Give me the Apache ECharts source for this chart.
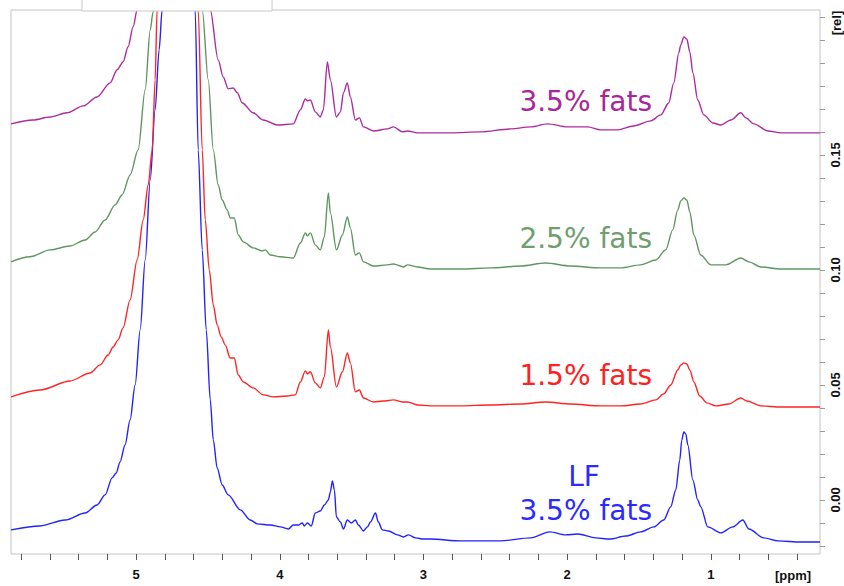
<!DOCTYPE html>
<html>
<head>
<meta charset="utf-8">
<script src="https://cdn.jsdelivr.net/npm/echarts@6/dist/echarts.min.js"></script>
<style>
  html, body { margin: 0; padding: 0; background: #fff; }
  #chart { width: 844px; height: 586px; }
</style>
</head>
<body>
<div id="chart"></div>
<script>
// spectra as [ppm, rel] pairs
const fat35 = [
  [5.871, 0.1635], [5.718, 0.1652], [5.599, 0.1665], [5.481, 0.1683], [5.369, 0.1713], [5.272, 0.1752],
  [5.181, 0.1813], [5.132, 0.1870], [5.091, 0.1904], [5.056, 0.1970], [5.021, 0.2057], [4.993, 0.2130],
  [4.707, 0.3043],
  [4.484, 0.2130], [4.429, 0.1913], [4.394, 0.1839], [4.359, 0.1787], [4.324, 0.1791], [4.296, 0.1770],
  [4.261, 0.1726], [4.185, 0.1683], [4.115, 0.1652], [4.017, 0.1630], [3.906, 0.1635], [3.857, 0.1696],
  [3.822, 0.1743], [3.808, 0.1735], [3.787, 0.1739], [3.753, 0.1687], [3.718, 0.1665], [3.697, 0.1696],
  [3.669, 0.1904], [3.648, 0.1826], [3.606, 0.1665], [3.578, 0.1687], [3.557, 0.1770], [3.530, 0.1813],
  [3.509, 0.1752], [3.474, 0.1652], [3.446, 0.1661], [3.418, 0.1622], [3.348, 0.1604], [3.251, 0.1613],
  [3.209, 0.1622], [3.146, 0.1600], [3.111, 0.1604], [3.042, 0.1596], [2.951, 0.1596], [2.812, 0.1596],
  [2.603, 0.1600], [2.394, 0.1613], [2.254, 0.1622], [2.136, 0.1635], [1.997, 0.1622], [1.857, 0.1622],
  [1.767, 0.1609], [1.648, 0.1609], [1.537, 0.1626], [1.418, 0.1648], [1.348, 0.1674], [1.293, 0.1726],
  [1.258, 0.1813], [1.223, 0.1943], [1.209, 0.1978], [1.188, 0.2013], [1.167, 0.2004], [1.146, 0.1948],
  [1.125, 0.1857], [1.091, 0.1739], [1.049, 0.1674], [0.986, 0.1639], [0.930, 0.1630], [0.861, 0.1652],
  [0.791, 0.1683], [0.756, 0.1661], [0.700, 0.1635], [0.603, 0.1604], [0.512, 0.1596], [0.373, 0.1596],
  [0.240, 0.1596]
];

const fat25 = [
  [5.871, 0.1035], [5.739, 0.1057], [5.599, 0.1087], [5.460, 0.1104], [5.355, 0.1130], [5.286, 0.1165],
  [5.216, 0.1217], [5.146, 0.1283], [5.098, 0.1326], [5.042, 0.1413], [4.986, 0.1522], [4.937, 0.1783],
  [4.902, 0.2043], [4.882, 0.2122],
  [4.707, 0.3043],
  [4.540, 0.2130], [4.498, 0.1826], [4.463, 0.1522], [4.429, 0.1370], [4.401, 0.1304], [4.366, 0.1261],
  [4.345, 0.1226], [4.317, 0.1226], [4.289, 0.1152], [4.254, 0.1122], [4.185, 0.1096], [4.122, 0.1083],
  [4.101, 0.1087], [4.066, 0.1065], [3.996, 0.1057], [3.906, 0.1052], [3.857, 0.1117], [3.822, 0.1161],
  [3.808, 0.1148], [3.787, 0.1161], [3.753, 0.1109], [3.718, 0.1087], [3.690, 0.1143], [3.662, 0.1335],
  [3.648, 0.1248], [3.606, 0.1087], [3.564, 0.1152], [3.530, 0.1230], [3.509, 0.1183], [3.474, 0.1065],
  [3.446, 0.1074], [3.418, 0.1035], [3.348, 0.1017], [3.251, 0.1022], [3.209, 0.1026], [3.139, 0.1013],
  [3.111, 0.1022], [3.042, 0.1013], [2.951, 0.1004], [2.742, 0.1004], [2.533, 0.1009], [2.324, 0.1017],
  [2.150, 0.1030], [1.976, 0.1017], [1.767, 0.1009], [1.627, 0.1009], [1.488, 0.1022], [1.383, 0.1043],
  [1.314, 0.1087], [1.265, 0.1174], [1.230, 0.1261], [1.209, 0.1300], [1.188, 0.1313], [1.167, 0.1304],
  [1.146, 0.1252], [1.118, 0.1152], [1.070, 0.1065], [1.000, 0.1022], [0.895, 0.1022], [0.791, 0.1052],
  [0.735, 0.1035], [0.652, 0.1013], [0.512, 0.1004], [0.240, 0.1004]
];

const fat15 = [
  [5.871, 0.0448], [5.669, 0.0478], [5.460, 0.0517], [5.321, 0.0552], [5.251, 0.0587], [5.195, 0.0630],
  [5.160, 0.0665], [5.125, 0.0696], [5.091, 0.0748], [5.042, 0.0870], [4.993, 0.1043], [4.951, 0.1217],
  [4.916, 0.1370], [4.888, 0.1522], [4.868, 0.1826], [4.854, 0.2130],
  [4.707, 0.3043],
  [4.568, 0.2130], [4.540, 0.1522], [4.519, 0.1217], [4.491, 0.1000], [4.463, 0.0848], [4.436, 0.0761],
  [4.408, 0.0709], [4.380, 0.0674], [4.345, 0.0617], [4.317, 0.0617], [4.289, 0.0543], [4.254, 0.0513],
  [4.185, 0.0487], [4.115, 0.0457], [4.045, 0.0448], [3.948, 0.0452], [3.892, 0.0457], [3.857, 0.0513],
  [3.822, 0.0561], [3.808, 0.0548], [3.787, 0.0557], [3.753, 0.0509], [3.718, 0.0487], [3.690, 0.0535],
  [3.662, 0.0739], [3.648, 0.0665], [3.606, 0.0491], [3.564, 0.0557], [3.530, 0.0639], [3.509, 0.0596],
  [3.474, 0.0470], [3.446, 0.0478], [3.418, 0.0443], [3.348, 0.0426], [3.279, 0.0430], [3.209, 0.0435],
  [3.146, 0.0426], [3.111, 0.0426], [3.042, 0.0413], [2.951, 0.0409], [2.742, 0.0409], [2.533, 0.0413],
  [2.324, 0.0417], [2.150, 0.0426], [1.976, 0.0417], [1.767, 0.0409], [1.627, 0.0409], [1.488, 0.0417],
  [1.383, 0.0435], [1.328, 0.0461], [1.279, 0.0500], [1.230, 0.0565], [1.209, 0.0587], [1.188, 0.0596],
  [1.167, 0.0591], [1.146, 0.0565], [1.118, 0.0513], [1.077, 0.0452], [1.028, 0.0422], [0.965, 0.0409],
  [0.875, 0.0417], [0.791, 0.0443], [0.749, 0.0430], [0.652, 0.0409], [0.512, 0.0404], [0.240, 0.0404]
];

const lf35 = [
  [5.871, -0.0130], [5.669, -0.0113], [5.495, -0.0087], [5.355, -0.0057], [5.272, -0.0022], [5.216, 0.0022],
  [5.167, 0.0096], [5.139, 0.0117], [5.112, 0.0165], [5.077, 0.0239], [5.042, 0.0348], [5.007, 0.0500],
  [4.972, 0.0739], [4.937, 0.1043], [4.902, 0.1391], [4.868, 0.1696], [4.840, 0.1957], [4.819, 0.2130],
  [4.707, 0.3478],
  [4.589, 0.2130], [4.568, 0.1522], [4.540, 0.1087], [4.512, 0.0739], [4.484, 0.0435], [4.463, 0.0261],
  [4.436, 0.0139], [4.401, 0.0065], [4.359, 0.0022], [4.275, -0.0043], [4.206, -0.0087], [4.157, -0.0104],
  [4.066, -0.0109], [3.996, -0.0117], [3.941, -0.0126], [3.906, -0.0109], [3.871, -0.0109], [3.843, -0.0100],
  [3.829, -0.0113], [3.808, -0.0100], [3.781, -0.0113], [3.753, -0.0057], [3.718, -0.0048], [3.690, -0.0022],
  [3.662, 0.0000], [3.648, 0.0035], [3.634, 0.0083], [3.620, 0.0043], [3.606, -0.0074], [3.578, -0.0096],
  [3.557, -0.0126], [3.530, -0.0087], [3.502, -0.0100], [3.474, -0.0087], [3.453, -0.0109], [3.418, -0.0135],
  [3.390, -0.0117], [3.369, -0.0096], [3.334, -0.0057], [3.314, -0.0096], [3.286, -0.0130], [3.244, -0.0135],
  [3.181, -0.0152], [3.139, -0.0161], [3.104, -0.0152], [3.056, -0.0165], [3.000, -0.0170], [2.951, -0.0170],
  [2.742, -0.0178], [2.463, -0.0178], [2.254, -0.0165], [2.122, -0.0139], [2.010, -0.0152], [1.927, -0.0148],
  [1.801, -0.0165], [1.704, -0.0170], [1.592, -0.0157], [1.488, -0.0139], [1.397, -0.0117], [1.328, -0.0087],
  [1.279, -0.0030], [1.244, 0.0043], [1.216, 0.0174], [1.202, 0.0261], [1.188, 0.0296], [1.174, 0.0287],
  [1.160, 0.0239], [1.125, 0.0087], [1.091, 0.0000], [1.070, -0.0030], [1.021, -0.0117], [0.930, -0.0143],
  [0.847, -0.0117], [0.777, -0.0087], [0.735, -0.0126], [0.631, -0.0165], [0.533, -0.0178], [0.373, -0.0183],
  [0.240, -0.0183]
];

const xLabels = [1, 2, 3, 4, 5];
const xTicks = [0.4, 0.6, 0.8, 1.0, 1.2, 1.4, 1.6, 1.8, 2.0, 2.2, 2.4, 2.6, 2.8, 3.0, 3.2, 3.4, 3.6,
  3.8, 4.0, 4.2, 4.4, 4.6, 4.8, 5.0, 5.2, 5.4, 5.6, 5.8];
const yLabels = [0.00, 0.05, 0.10, 0.15];
const yTicks = [-0.02, -0.01, 0.00, 0.01, 0.02, 0.03, 0.04, 0.05, 0.06, 0.07, 0.08, 0.09, 0.10,
  0.11, 0.12, 0.13, 0.14, 0.15, 0.16, 0.17, 0.18, 0.19, 0.20, 0.21];

const traces = [
  { name: 'LF 3.5% fats', data: lf35, color: '#2222ff' },
  { name: '1.5% fats', data: fat15, color: '#ff2424' },
  { name: '2.5% fats', data: fat25, color: '#5f9660' },
  { name: '3.5% fats', data: fat35, color: '#b02a9e' }
];

const chart = echarts.init(document.getElementById('chart'), null, { renderer: 'svg' });

const labelFont = { fontFamily: 'DejaVu Sans', fontSize: 28 };
const axisFont = { fontFamily: 'Liberation Sans', fontWeight: 'bold', fontSize: 13, color: '#111' };

chart.setOption({
  animation: false,
  grid: { left: 11, right: 24, top: 10, bottom: 32, show: true, borderColor: '#c4c4c4', borderWidth: 1 },
  xAxis: {
    type: 'value',
    inverse: true,
    min: 0.24, max: 5.871,
    axisLine: { show: false, onZero: false },
    splitLine: { show: false },
    axisTick: { show: true, customValues: xTicks, length: 6, lineStyle: { color: '#555' } },
    axisLabel: Object.assign({ customValues: xLabels, margin: 14 }, axisFont)
  },
  yAxis: {
    type: 'value',
    position: 'right',
    min: -0.0235, max: 0.213,
    axisLine: { show: false, onZero: false },
    splitLine: { show: false },
    axisTick: { show: true, customValues: yTicks, length: 5, lineStyle: { color: '#999' } },
    axisLabel: Object.assign({ customValues: yLabels, rotate: 90, margin: 9, formatter: v => v.toFixed(2) }, axisFont)
  },
  series: traces.map(t => ({
    type: 'line',
    name: t.name,
    data: t.data,
    showSymbol: false,
    smooth: 0.3,
    smoothMonotone: 'x',
    clip: true,
    lineStyle: { color: t.color, width: 1.4 }
  })),
  graphic: [
    { type: 'rect', shape: { x: 82, y: -1, width: 190, height: 12 },
      style: { fill: '#fff', stroke: '#c8c8c8', lineWidth: 1 }, z: 100 },
    { type: 'text', x: 652, y: 101, style: Object.assign({ text: '3.5% fats', fill: '#a8259a', align: 'right', verticalAlign: 'middle' }, labelFont), z: 100 },
    { type: 'text', x: 652, y: 238, style: Object.assign({ text: '2.5% fats', fill: '#6f9f6f', align: 'right', verticalAlign: 'middle' }, labelFont), z: 100 },
    { type: 'text', x: 652, y: 375, style: Object.assign({ text: '1.5% fats', fill: '#ff2020', align: 'right', verticalAlign: 'middle' }, labelFont), z: 100 },
    { type: 'text', x: 584, y: 476, style: Object.assign({ text: 'LF', fill: '#2a2aff', align: 'center', verticalAlign: 'middle' }, labelFont), z: 100 },
    { type: 'text', x: 652, y: 510, style: Object.assign({ text: '3.5% fats', fill: '#2a2aff', align: 'right', verticalAlign: 'middle' }, labelFont), z: 100 },
    { type: 'text', x: 793, y: 575, style: { text: '[ppm]', fill: '#111', align: 'center', verticalAlign: 'middle',
      fontFamily: 'Liberation Sans', fontWeight: 'bold', fontSize: 13 } },
    { type: 'text', x: 836, y: 23, rotation: Math.PI / 2, style: { text: '[rel]', fill: '#111', align: 'center', verticalAlign: 'middle',
      fontFamily: 'Liberation Sans', fontWeight: 'bold', fontSize: 13 } }
  ]
});

window.addEventListener('resize', () => chart.resize());
</script>
</body>
</html>
